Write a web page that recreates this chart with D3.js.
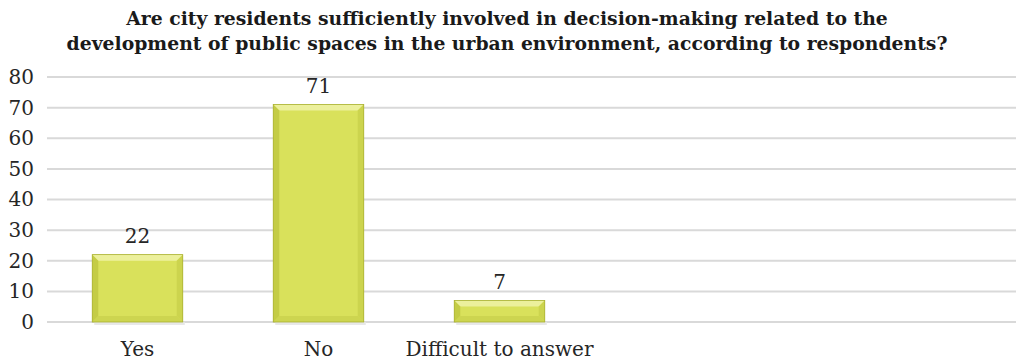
<!DOCTYPE html>
<html>
<head>
<meta charset="utf-8">
<script src="https://cdn.jsdelivr.net/npm/d3@7"></script>
<style>
  body { margin: 0; background: #fff; }
  svg { display: block; font-family: "DejaVu Serif", "Liberation Serif", serif; }
</style>
</head>
<body>
<svg id="chart" width="1017" height="360"></svg>
<script>
const categories = ["Yes", "No", "Difficult to answer"]
const values = [22, 71, 7]
const yTicks = [0, 10, 20, 30, 40, 50, 60, 70, 80]
const titleLines = [
    "Are city residents sufficiently involved in decision-making related to the",
    "development of public spaces in the urban environment, according to respondents?"
]

const svg = d3.select("#chart")
const plotLeft = 47, plotRight = 1016, plotTop = 77, plotBottom = 322
const step = 181

const x = d3.scaleBand()
    .domain(categories)
    .range([plotLeft, plotLeft + step * categories.length])
    .paddingInner(0.5)
    .paddingOuter(0.25)

const y = d3.scaleLinear()
    .domain([0, 80])
    .range([plotBottom, plotTop])

// title
svg.append("g").selectAll("text")
    .data(titleLines)
    .enter()
    .append("text")
        .attr("x", 507)
        .attr("y", (d, i) => 25 + i * 25)
        .attr("text-anchor", "middle")
        .style("font-weight", "bold")
        .style("font-size", "18.8px")
        .style("fill", "#1a1a1a")
        .text(d => d)

// gridlines
svg.append("g").selectAll("line")
    .data(yTicks)
    .enter()
    .append("line")
        .attr("x1", plotLeft)
        .attr("x2", plotRight)
        .attr("y1", d => y(d))
        .attr("y2", d => y(d))
        .style("stroke", "#d9d9d9")
        .style("stroke-width", 2)

// y axis labels
const yAxis = svg.append("g")
    .attr("transform", `translate(${plotLeft}, 0)`)
    .call(d3.axisLeft(y).tickValues(yTicks).tickSize(0).tickPadding(13))
yAxis.select(".domain").remove()
yAxis.selectAll("text")
    .style("font-family", "DejaVu Serif, serif")
    .style("font-size", "20px")
    .style("fill", "#262626")

// bars with bevel
const bev = 6
const bars = svg.append("g").selectAll("g.bar")
    .data(categories.map((c, i) => ({cat: c, val: values[i]})))
    .enter()
    .append("g")
        .attr("class", "bar")

bars.append("rect")
    .attr("x", d => x(d.cat) + 2)
    .attr("y", d => y(0))
    .attr("width", x.bandwidth())
    .attr("height", 3)
    .style("fill", "#e8e8e8")

bars.append("rect")
    .attr("x", d => x(d.cat))
    .attr("y", d => y(d.val))
    .attr("width", x.bandwidth())
    .attr("height", d => y(0) - y(d.val))
    .style("fill", "#d9e15b")

function bevel(d, side){
    const x0 = x(d.cat), x1 = x0 + x.bandwidth()
    const y0 = y(d.val), y1 = y(0)
    const b = Math.min(bev, (y1 - y0) / 2)
    if (side == "top") return [[x0, y0], [x1, y0], [x1 - b, y0 + b], [x0 + b, y0 + b]]
    if (side == "left") return [[x0, y0], [x0 + b, y0 + b], [x0 + b, y1 - b], [x0, y1]]
    if (side == "right") return [[x1, y0], [x1, y1], [x1 - b, y1 - b], [x1 - b, y0 + b]]
    return [[x0, y1], [x0 + b, y1 - b], [x1 - b, y1 - b], [x1, y1]]
}
const bevelColors = {top: "#ecf09c", left: "#c4cc45", right: "#ccd44e", bottom: "#cdd550"}
Object.keys(bevelColors).forEach(side => {
    bars.append("polygon")
        .attr("points", d => bevel(d, side).map(p => p.join(",")).join(" "))
        .style("fill", bevelColors[side])
})
bars.append("rect")
    .attr("x", d => x(d.cat))
    .attr("y", d => y(d.val))
    .attr("width", x.bandwidth())
    .attr("height", d => y(0) - y(d.val))
    .style("fill", "none")
    .style("stroke", "#a9b031")
    .style("stroke-width", 0.8)

// value labels
bars.append("text")
    .attr("x", d => x(d.cat) + x.bandwidth() / 2)
    .attr("y", d => y(d.val) - 12)
    .attr("text-anchor", "middle")
    .style("font-size", "20px")
    .style("fill", "#262626")
    .text(d => d.val)

// x labels
svg.append("g").selectAll("text.cat")
    .data(categories)
    .enter()
    .append("text")
        .attr("class", "cat")
        .attr("x", d => x(d) + x.bandwidth() / 2)
        .attr("y", 356)
        .attr("text-anchor", "middle")
        .style("font-size", "20px")
        .style("fill", "#262626")
        .text(d => d)
</script>
</body>
</html>
